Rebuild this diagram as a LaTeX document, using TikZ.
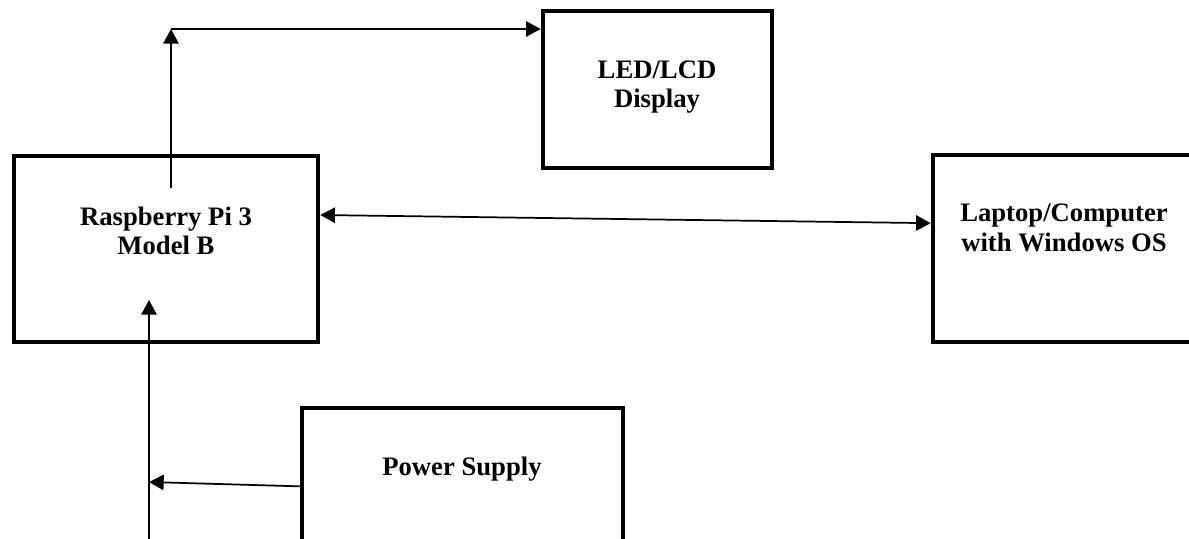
\documentclass[tikz,border=0pt]{standalone}
\usepackage{fontspec}
\setmainfont{Liberation Serif}
\usetikzlibrary{arrows.meta,positioning}

\begin{document}
\begin{tikzpicture}[x=0.75pt,y=-0.75pt,
    blk/.style={draw, line width=3.4pt, inner sep=0pt},
    txt/.style={align=center, inner sep=0pt,
        font=\fontsize{20}{22}\selectfont\bfseries},
    link/.style={line width=1.3pt, -{Triangle[length=11pt,width=11.5pt]}},
    both/.style={line width=1.3pt,
        {Triangle[length=11pt,width=11.5pt]}-{Triangle[length=11pt,width=11.5pt]}}]
    \clip (0,0) rectangle (1189,539);

    \node[blk, minimum width=228pt, minimum height=139.5pt] (pi) at (166,249) {};
    \node[txt] (pitext) at (166,231) {Raspberry Pi 3\\Model B};

    \node[blk, minimum width=171.75pt, minimum height=117.75pt] (led) at (657.5,89.5) {};
    \node[txt] (ledtext) at (657,87) {LED/LCD\\Display};

    \node[blk, minimum width=200.25pt, minimum height=140.25pt] (laptop) at (1066.5,248.5) {};
    \node[txt] (laptoptext) at (1064,228) {Laptop/Computer\\with Windows OS};

    \node[blk, minimum width=240.75pt, minimum height=100.5pt] (power) at (462.5,475) {};
    \node[txt] (powertext) at (462,469) {Power Supply};

    % connectors
    \coordinate (piout) at (171,188);
    \coordinate (bend) at (171,29);
    \draw[link] (piout) -- (bend);
    \draw[link] (bend) -- (bend -| led.west);

    \draw[both] ([yshift=25.5pt]pi.east) -- ([yshift=19pt]laptop.west);

    \coordinate (feed) at (149,545);
    \coordinate (piin) at (149,300);
    \coordinate (tee) at (149,482);
    \draw[link] (feed) -- (piin);
    \draw[link] ([yshift=-8.5pt]power.west) -- (tee);
\end{tikzpicture}
\end{document}
